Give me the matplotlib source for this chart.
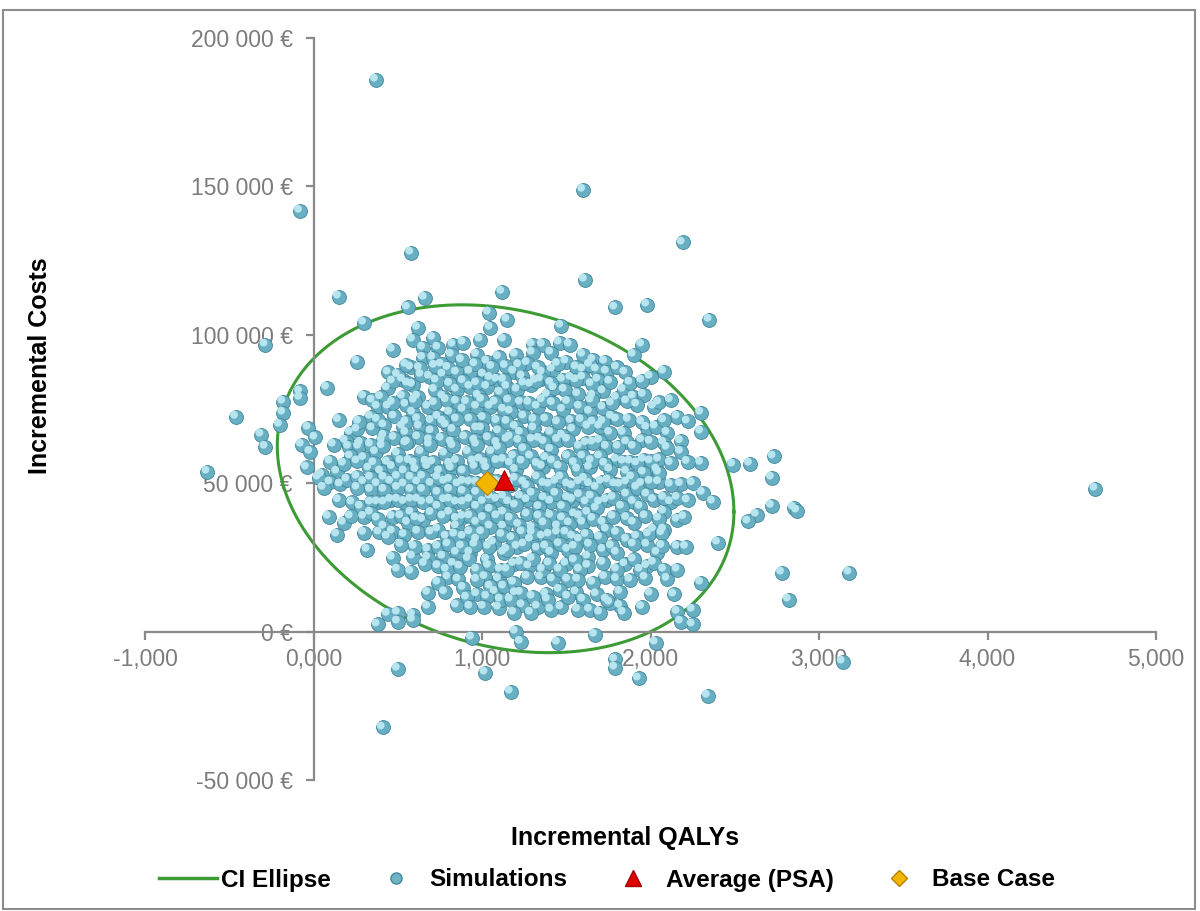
import numpy as np
import matplotlib
matplotlib.use("Agg")
import matplotlib.pyplot as plt
from matplotlib.lines import Line2D
from matplotlib.patches import Rectangle
from matplotlib.ticker import FuncFormatter, MultipleLocator
from matplotlib.transforms import offset_copy

# PSA simulations (incremental QALYs, incremental costs in k€), grouped by cost band
sims_top = [
    (0.37, 186.0), (1.60, 148.9), (-0.08, 141.8), (2.19, 131.1), (0.58, 127.7), (1.61, 118.6),
    (1.12, 114.5), (0.15, 112.9), (0.66, 112.5), (0.56, 109.2), (1.79, 109.2), (1.98, 110.2),
    (2.35, 105.1), (1.04, 107.5), (1.15, 105.1), (0.30, 104.1), (1.47, 103.1), (1.05, 102.4),
    (0.62, 102.4), (0.59, 98.4), (0.71, 99.0), (0.47, 95.0), (0.65, 95.7), (0.74, 95.7),
    (0.83, 96.7), (0.89, 97.4), (0.99, 98.4), (1.13, 98.4), (1.30, 96.7), (1.36, 96.7),
    (1.46, 97.4), (1.52, 96.7), (1.95, 96.7), (-0.285, 96.7),
]
sims_upper = [
    (0.26, 91.0), (0.97, 93.3), (0.65, 92.3), (0.71, 92.3), (0.82, 93.3), (0.445, 87.3),
    (1.20, 93.3), (1.30, 94.0), (1.41, 94.0), (1.60, 93.3), (1.66, 91.6), (1.73, 91.0),
    (1.90, 93.3), (2.08, 87.6), (2.00, 85.9), (1.85, 87.3), (1.74, 87.6), (1.68, 88.3),
    (1.60, 88.3), (1.42, 88.3), (1.36, 87.3), (1.19, 87.6), (0.53, 84.9), (0.59, 83.2),
    (0.69, 85.9), (0.77, 86.6), (0.85, 87.3), (0.93, 87.6), (1.01, 86.6), (1.09, 84.9),
    (1.14, 89.5), (0.88, 91.5), (1.03, 91.0), (1.10, 92.5), (0.76, 90.0), (0.58, 89.0),
    (1.27, 90.5), (1.50, 91.0), (1.53, 85.5), (1.29, 83.2), (1.15, 82.5), (1.21, 81.5),
    (1.39, 79.8), (1.48, 84.9), (1.49, 81.5), (1.60, 85.6), (1.69, 84.9), (1.80, 78.8),
    (1.84, 81.5), (1.90, 79.2), (1.96, 79.8), (0.53, 79.2), (0.62, 79.2), (0.77, 79.2),
    (0.85, 81.5), (0.93, 82.5), (1.03, 82.5), (1.11, 80.5), (0.30, 79.2), (0.08, 82.2),
    (-0.08, 80.9), (-0.08, 78.8), (0.44, 82.0), (0.50, 86.5), (0.72, 81.5), (0.98, 79.5),
    (1.05, 85.5), (0.64, 86.5), (0.40, 79.0), (1.35, 85.0), (1.24, 86.0), (1.43, 82.0),
    (1.57, 80.0), (1.72, 81.0), (1.66, 79.5),
]
sims_mid_high = [
    (-0.18, 77.5), (-0.18, 73.8), (-0.20, 69.7), (0.38, 75.8), (0.445, 75.8), (0.34, 72.4),
    (-0.46, 72.4), (1.33, 75.8), (1.23, 77.2), (1.17, 74.1), (1.48, 74.8), (1.58, 75.8),
    (1.64, 74.1), (1.72, 75.5), (1.77, 72.4), (1.92, 76.5), (2.02, 75.8), (1.87, 71.4),
    (2.16, 72.4), (2.30, 73.8), (0.68, 75.8), (0.59, 73.8), (0.53, 69.1), (0.63, 69.1),
    (0.74, 72.4), (0.81, 73.8), (0.89, 74.8), (0.97, 75.8), (1.05, 75.8), (1.13, 74.8),
    (0.48, 72.5), (0.55, 76.5), (0.85, 77.5), (1.01, 72.0), (1.09, 71.0), (0.93, 71.5),
    (1.25, 72.5), (1.38, 71.5), (1.42, 77.0), (1.53, 71.0), (1.66, 70.5), (0.70, 71.0),
    (0.79, 69.5), (0.42, 69.5), (1.20, 69.0), (1.00, 68.5), (1.31, 68.5),
    (-0.03, 68.7), (0.01, 65.4), (0.22, 67.0), (0.26, 68.1), (-0.31, 66.4), (2.10, 67.0),
    (2.30, 67.4), (1.84, 67.0), (1.76, 67.0), (1.70, 69.1), (1.63, 69.1), (1.54, 68.1),
    (1.98, 68.7), (2.03, 69.1), (1.41, 67.0), (1.23, 67.0), (0.35, 68.5), (0.42, 66.0),
    (0.55, 67.0), (0.70, 67.5), (0.83, 68.0), (0.90, 65.5), (0.97, 68.5), (1.10, 67.5),
    (0.62, 65.5), (0.76, 65.0), (1.04, 65.2), (1.17, 65.5), (1.34, 65.0), (0.48, 65.3),
    (1.48, 66.0),
]
sims_mid = [
    (-0.07, 63.0), (-0.02, 60.6), (0.12, 63.0), (0.21, 62.3), (0.27, 62.3), (-0.285, 62.3),
    (1.51, 64.7), (1.58, 62.3), (1.66, 63.7), (1.74, 62.3), (1.81, 62.3), (1.90, 62.3),
    (1.41, 61.3), (1.30, 64.7), (1.15, 64.7), (1.70, 59.0), (1.80, 57.9), (1.88, 57.3),
    (1.60, 59.0), (1.51, 59.0), (1.29, 59.0), (1.19, 59.0), (1.13, 57.9), (1.96, 57.9),
    (2.18, 60.6), (2.30, 56.9), (2.49, 56.3), (2.59, 56.6), (2.73, 59.0), (2.72, 51.9),
    (0.22, 59.0), (-0.04, 55.3), (0.05, 52.9), (0.14, 53.9), (-0.63, 53.9), (1.36, 55.6),
    (1.46, 55.6), (1.57, 54.6), (1.64, 55.3), (1.76, 54.6), (1.86, 53.9), (1.96, 53.6),
    (2.04, 54.6), (0.30, 58.5), (0.37, 60.5), (0.44, 57.0), (0.50, 60.0), (0.57, 57.5),
    (0.64, 60.5), (0.71, 57.0), (0.78, 60.0), (0.85, 57.5), (0.92, 60.5), (0.99, 58.0),
    (1.06, 60.5), (0.33, 55.0), (0.40, 54.0), (0.47, 55.5), (0.54, 54.0), (0.61, 54.5),
    (0.68, 55.5), (0.75, 54.0), (0.82, 55.0), (0.89, 54.0), (0.96, 55.5), (1.20, 54.5),
    (1.25, 61.5), (0.34, 63.0), (0.41, 62.5), (0.55, 63.5), (0.69, 63.0), (0.83, 62.5),
    (0.97, 63.0), (1.10, 62.0), (1.38, 58.5), (2.05, 58.0), (2.10, 62.0), (1.03, 55.0),
    (2.00, 64.0),
]
sims_mid_low = [
    (0.03, 51.9), (0.06, 48.5), (0.20, 51.2), (0.26, 52.2), (0.34, 51.9), (0.42, 51.9),
    (0.50, 52.2), (0.58, 51.9), (0.65, 52.2), (0.74, 51.9), (0.81, 51.2), (0.89, 50.5),
    (0.97, 50.2), (1.13, 50.2), (0.26, 48.5), (0.34, 47.8), (0.42, 47.8), (0.50, 48.5),
    (0.58, 47.8), (0.65, 47.8), (0.74, 46.8), (0.81, 47.8), (0.89, 47.2), (0.97, 46.8),
    (1.05, 45.5), (1.13, 45.5), (1.78, 45.1), (1.86, 46.2), (1.92, 48.5), (1.98, 46.2),
    (2.08, 45.1), (2.16, 45.1), (2.31, 46.8), (2.37, 43.8), (1.70, 43.5), (2.05, 53.6),
    (2.85, 41.8), (2.87, 40.8), (2.63, 39.4), (2.58, 37.1), (2.72, 42.4), (1.20, 51.5),
    (1.27, 49.0), (1.33, 52.0), (1.40, 49.5), (1.47, 52.0), (1.54, 49.0), (1.61, 51.5),
    (1.68, 48.5), (1.75, 51.0), (1.82, 49.5), (1.89, 52.0), (2.00, 50.5), (1.23, 45.5),
    (1.30, 46.5), (1.37, 45.0), (1.44, 46.5), (1.51, 45.0), (1.58, 46.0), (1.65, 45.5),
    (1.05, 51.0), (2.12, 49.5), (2.25, 50.0),
]
sims_low = [
    (0.23, 43.5), (0.28, 42.1), (0.34, 43.5), (0.42, 43.5), (0.50, 44.5), (0.58, 44.5),
    (0.65, 43.5), (0.74, 42.1), (0.81, 40.1), (0.89, 38.7), (0.97, 36.7), (1.05, 35.4),
    (1.13, 35.4), (1.13, 40.1), (1.05, 41.1), (0.97, 42.1), (0.89, 43.5), (0.81, 44.5),
    (0.09, 38.7), (0.18, 36.7), (0.30, 38.7), (0.34, 40.1), (0.42, 35.4), (0.47, 38.7),
    (0.58, 40.1), (0.65, 37.7), (0.74, 34.4), (0.56, 36.7), (1.63, 40.1), (1.60, 36.7),
    (1.72, 36.7), (1.74, 34.4), (1.83, 42.1), (1.94, 42.1), (2.08, 40.4), (2.16, 37.7),
    (1.90, 36.7), (2.02, 34.4), (2.08, 34.4), (1.20, 42.5), (1.27, 39.5), (1.34, 42.0),
    (1.41, 39.0), (1.48, 42.0), (1.55, 39.5), (1.22, 36.0), (1.30, 35.0), (1.37, 36.5),
    (1.45, 35.5), (1.52, 36.5), (1.68, 41.5), (0.70, 40.0), (0.85, 35.5),
    (0.14, 32.7), (0.32, 27.6), (0.39, 33.4), (0.47, 33.7), (0.44, 32.0), (0.62, 33.7),
    (0.68, 27.6), (0.74, 28.6), (0.77, 25.3), (0.85, 26.6), (0.93, 26.6), (1.03, 24.3),
    (1.13, 26.6), (1.07, 30.0), (0.97, 31.0), (0.89, 32.0), (0.79, 32.0), (0.47, 24.9),
    (0.59, 25.3), (0.68, 24.9), (1.54, 32.0), (1.45, 33.4), (1.36, 32.0), (1.29, 31.0),
    (1.21, 28.6), (1.15, 27.6), (1.51, 27.6), (1.41, 26.6), (1.58, 31.0), (1.70, 31.7),
    (1.72, 27.6), (1.63, 25.3), (1.80, 26.6), (1.86, 31.0), (1.92, 32.0), (1.98, 29.3),
    (2.04, 26.6), (2.16, 28.6), (2.21, 28.6), (2.40, 30.0), (1.24, 33.5), (1.33, 28.0),
    (1.00, 33.5), (1.18, 31.5),
]
sims_bottom = [
    (0.50, 20.9), (0.58, 20.2), (0.79, 20.9), (0.74, 16.5), (0.68, 13.1), (0.89, 14.8),
    (0.97, 17.5), (1.03, 11.8), (1.11, 10.8), (1.13, 15.2), (1.05, 15.2), (0.97, 20.9),
    (0.87, 21.9), (1.11, 20.9), (2.02, 23.2), (2.08, 20.9), (2.16, 20.9), (1.90, 24.3),
    (1.94, 20.9), (1.88, 17.5), (1.72, 23.2), (1.80, 20.9), (1.58, 20.9), (1.57, 17.5),
    (1.66, 16.5), (1.51, 17.5), (1.46, 14.1), (1.46, 20.9), (1.36, 20.9), (1.23, 23.2),
    (1.15, 20.9), (1.27, 18.5), (1.19, 16.5), (2.30, 16.5), (1.30, 24.5), (1.40, 23.0),
    (1.55, 24.0), (0.92, 24.5), (1.20, 13.0), (0.91, 11.5), (0.93, 8.4), (1.01, 8.4),
    (0.68, 8.4), (0.50, 6.4), (0.50, 3.4), (0.59, 5.7), (0.38, 2.4), (0.44, 6.0),
    (0.59, 4.0), (1.51, 11.8), (1.60, 10.8), (1.64, 7.4), (1.57, 7.4), (1.70, 6.4),
    (1.76, 9.8), (1.74, 10.8), (1.84, 6.4), (2.14, 12.5), (2.16, 6.7), (2.25, 7.4),
    (2.25, 2.4), (2.18, 3.4), (1.41, 7.4), (1.33, 8.4), (1.29, 6.4), (1.19, 6.4),
    (1.39, 10.8), (1.30, 11.8), (1.23, 13.1), (1.17, 10.8), (2.78, 19.9), (3.18, 19.9),
    (2.82, 10.8),
]
sims_negative = [
    (0.94, -2.0), (1.02, -13.8), (1.17, -20.2), (0.50, -12.5), (0.41, -32.3), (1.20, 0.0),
    (1.23, -3.4), (1.67, -1.0), (2.03, -3.7), (1.45, -3.7), (1.79, -9.4), (1.79, -12.1),
    (1.93, -15.8), (2.34, -21.6), (3.14, -10.1),
]
sims_far = [(4.64, 48.2)]
# further simulations inside the dense core
sims_core_a = [
    (0.55, 89.9), (0.63, 88.8), (0.72, 89.6), (0.80, 88.9), (0.96, 90.1), (1.06, 89.2),
    (1.22, 89.8), (1.33, 89.0), (1.45, 90.2), (1.56, 89.1), (1.64, 89.9), (1.80, 89.0),
    (0.47, 84.3), (0.56, 83.6), (0.73, 84.6), (0.81, 83.5), (0.89, 84.4), (0.97, 83.7),
    (1.13, 84.8), (1.25, 83.6), (1.32, 84.5), (1.41, 83.8), (1.56, 84.7), (1.65, 83.4),
    (1.76, 84.2), (1.88, 83.9), (1.95, 84.6),
    (0.35, 77.9), (0.47, 77.1), (0.60, 77.8), (0.72, 77.0), (0.79, 78.0), (0.91, 77.3),
    (1.00, 78.1), (1.08, 77.2), (1.16, 77.9), (1.28, 77.1), (1.36, 78.0), (1.51, 77.4),
    (1.65, 77.9), (1.77, 76.9), (1.86, 77.6), (2.05, 77.2), (2.12, 78.0),
    (0.15, 71.3), (0.27, 70.7), (0.38, 71.4), (0.55, 70.6), (0.62, 71.6), (0.77, 70.8),
    (0.85, 71.5), (1.15, 70.7), (1.31, 71.4), (1.45, 70.5), (1.59, 71.3), (1.72, 70.7),
    (1.80, 71.5), (1.95, 70.6), (2.08, 71.2), (2.22, 70.8),
    (0.19, 64.3), (0.28, 63.6), (0.41, 64.4), (0.56, 63.8), (0.69, 64.5), (0.82, 63.7),
    (0.96, 64.4), (1.09, 63.6), (1.22, 64.3), (1.37, 63.9), (1.45, 64.6), (1.62, 63.5),
    (1.70, 64.3), (1.86, 63.8), (1.95, 64.5), (2.08, 63.7), (2.18, 64.2),
]
sims_core_b = [
    (0.10, 57.3), (0.18, 56.6), (0.26, 57.4), (0.36, 56.8), (0.52, 57.5), (0.60, 56.7),
    (0.67, 57.3), (0.81, 56.6), (0.95, 57.4), (1.02, 56.8), (1.09, 57.5), (1.17, 56.7),
    (1.24, 57.3), (1.33, 56.5), (1.42, 57.4), (1.55, 56.8), (1.65, 57.5), (1.73, 56.6),
    (1.84, 57.3), (1.92, 56.7), (2.00, 57.4), (2.12, 56.8), (2.22, 57.2),
    (0.10, 50.3), (0.16, 49.6), (0.30, 50.4), (0.38, 49.7), (0.46, 50.5), (0.54, 49.6),
    (0.62, 50.3), (0.70, 49.8), (0.78, 50.5), (0.86, 49.6), (0.93, 50.3), (1.01, 49.7),
    (1.09, 50.6), (1.17, 49.5), (1.25, 50.3), (1.37, 49.8), (1.44, 50.5), (1.51, 49.6),
    (1.58, 50.4), (1.64, 49.7), (1.71, 50.5), (1.79, 49.6), (1.86, 50.3), (1.95, 49.8),
    (2.05, 50.4), (2.18, 49.7),
    (0.15, 44.3), (0.38, 43.6), (0.46, 44.4), (0.54, 43.7), (0.62, 44.5), (0.70, 43.8),
    (0.78, 44.3), (0.85, 43.5), (0.93, 44.4), (1.01, 43.7), (1.09, 44.5), (1.16, 43.6),
    (1.27, 44.3), (1.41, 43.8), (1.54, 44.4), (1.62, 43.6), (1.74, 44.3), (1.90, 43.7),
    (2.02, 44.4), (2.12, 43.6), (2.22, 44.2),
]
sims_core_c = [
    (0.22, 38.8), (0.38, 38.1), (0.52, 38.9), (0.61, 38.2), (0.77, 38.8), (0.85, 38.0),
    (0.93, 38.9), (1.01, 38.3), (1.09, 38.9), (1.17, 38.1), (1.34, 38.8), (1.48, 38.2),
    (1.58, 38.9), (1.66, 38.0), (1.78, 38.7), (1.86, 38.3), (1.97, 38.9), (2.05, 38.1),
    (2.20, 38.6),
    (0.30, 33.3), (0.54, 32.6), (0.70, 33.4), (0.84, 32.7), (0.93, 33.5), (1.12, 32.6),
    (1.30, 33.3), (1.40, 32.7), (1.50, 33.4), (1.62, 32.6), (1.80, 33.3), (1.99, 32.8),
    (2.07, 33.2),
    (0.52, 29.3), (0.60, 28.6), (0.80, 29.4), (0.88, 28.7), (0.96, 29.3), (1.04, 28.6),
    (1.25, 29.4), (1.38, 28.7), (1.46, 29.5), (1.55, 28.6), (1.64, 29.3), (1.77, 28.8),
    (1.90, 29.4), (2.07, 28.9),
    (0.66, 22.8), (0.74, 22.1), (0.83, 22.9), (1.04, 22.2), (1.19, 22.8), (1.28, 22.0),
    (1.50, 22.9), (1.63, 22.2), (1.85, 22.7), (1.98, 22.1),
    (0.80, 18.3), (0.86, 17.6), (1.02, 18.4), (1.10, 17.7), (1.35, 18.3), (1.42, 17.6),
    (1.73, 18.4), (1.80, 17.7), (1.97, 18.2), (2.10, 17.8),
    (0.78, 13.3), (0.97, 12.6), (1.08, 13.4), (1.38, 12.7), (1.56, 13.3), (1.68, 12.6),
    (1.82, 13.4), (2.00, 12.8),
    (0.85, 8.8), (1.10, 8.1), (1.24, 8.9), (1.47, 8.2), (1.82, 8.7), (1.95, 8.3),
]

# PSA mean and deterministic base case
psa_mean = (1.13, 51.0)
base_case = (1.03, 50.0)

# 95% CI ellipse: centre, spreads (QALY, k€) and correlation
ell_center = (1.14, 51.5)
ell_spread = (1.355, 58.6)
ell_corr = -0.19

sims = np.array(sims_top + sims_upper + sims_mid_high + sims_core_a + sims_mid
                + sims_core_b + sims_mid_low + sims_low + sims_core_c + sims_bottom
                + sims_negative + sims_far)
qaly = sims[:, 0]
cost = sims[:, 1] * 1000

W, H = 1200, 911
fig = plt.figure(figsize=(W / 100, H / 100), dpi=100)
plt.rcParams['font.family'] = ['Liberation Sans', 'DejaVu Sans']
ax = fig.add_axes([145 / W, 1 - 780 / H, (1156 - 145) / W, (780 - 38) / H])

# outer chart frame
fig.patches.append(Rectangle((3 / W, 1 - 909 / H), 1192 / W, 899 / H, transform=fig.transFigure,
                             fill=False, edgecolor='#8c8c8c', linewidth=1.5))

# ellipse outline
t = np.linspace(0, 2 * np.pi, 400)
ex = ell_center[0] + ell_spread[0] * np.cos(t)
ey = ell_center[1] + ell_spread[1] * (ell_corr * np.cos(t) + np.sqrt(1 - ell_corr ** 2) * np.sin(t))
ax.plot(ex, ey * 1000, color='#3d9b35', linewidth=2.2, zorder=2)

# simulations drawn as shaded spheres
hl = offset_copy(ax.transData, fig=fig, x=-1.4, y=1.4, units='points')
ax.scatter(qaly, cost, s=100, c='#68afc3', edgecolors='#43879a', linewidths=0.6, zorder=3)
ax.scatter(qaly, cost, s=32, c='#b6e5f0', edgecolors='none', transform=hl, zorder=3)

ax.scatter([base_case[0]], [base_case[1] * 1000], marker='D', s=150, c='#f2b600',
           edgecolors='#b98300', linewidths=0.8, zorder=5)
ax.scatter([psa_mean[0]], [psa_mean[1] * 1000], marker='^', s=200, c='#e00000',
           edgecolors='#a00000', linewidths=0.8, zorder=6)

ax.set_xlim(-1, 5)
ax.set_ylim(-50000, 200000)
ax.xaxis.set_major_locator(MultipleLocator(1))
ax.yaxis.set_major_locator(MultipleLocator(50000))
ax.xaxis.set_major_formatter(FuncFormatter(lambda v, p: f"{v:.3f}".replace('.', ',')))
ax.yaxis.set_major_formatter(FuncFormatter(lambda v, p: f"{v:,.0f}".replace(',', ' ') + ' €'))

for side in ('top', 'right'):
    ax.spines[side].set_visible(False)
ax.spines['left'].set_position(('data', 0))
ax.spines['bottom'].set_position(('data', 0))
for side in ('left', 'bottom'):
    ax.spines[side].set_color('#8a8a8a')
    ax.spines[side].set_linewidth(1.6)
ax.tick_params(axis='both', direction='out', length=6, width=1.6, color='#8a8a8a',
               labelcolor='#7c7c7c', labelsize=16.5)
ax.tick_params(axis='x', pad=6)
ax.tick_params(axis='y', pad=9)
ax.patch.set_alpha(0)

fig.text(40 / W, 1 - 366 / H, 'Incremental Costs', rotation=90, ha='center', va='center',
         fontsize=18, fontweight='bold')
fig.text(625 / W, 1 - 838 / H, 'Incremental QALYs', ha='center', va='center',
         fontsize=18, fontweight='bold')

handles = [
    Line2D([], [], color='#3d9b35', linewidth=2.5),
    Line2D([], [], linestyle='none', marker='o', markersize=8, markerfacecolor='#6fb3c6',
           markeredgecolor='#43879a'),
    Line2D([], [], linestyle='none', marker='^', markersize=12, markerfacecolor='#e00000',
           markeredgecolor='#a00000'),
    Line2D([], [], linestyle='none', marker='D', markersize=8, markerfacecolor='#f2b600',
           markeredgecolor='#b98300'),
]
labels = ['CI Ellipse', 'Simulations', 'Average (PSA)', 'Base Case']
fig.legend(handles, labels, loc='center', bbox_to_anchor=(607 / W, 1 - 880 / H), ncol=4,
           frameon=False, prop={'size': 17.5, 'weight': 'bold'}, handlelength=2.4,
           handletextpad=0.15, columnspacing=1.5)

fig.savefig('out.png', dpi=100)
